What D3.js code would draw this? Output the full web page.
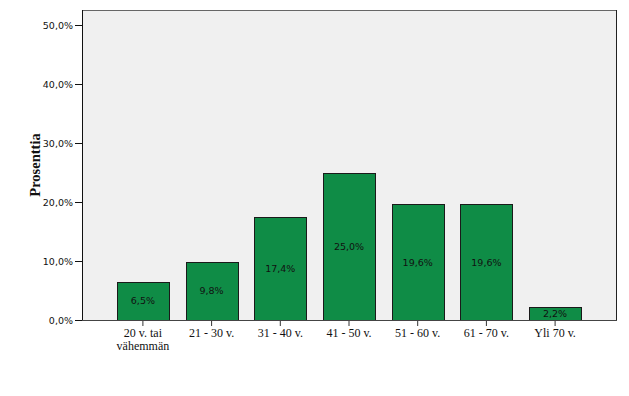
<!DOCTYPE html>
<html>
<head>
<meta charset="utf-8">
<script src="https://cdn.jsdelivr.net/npm/d3@7"></script>
<style>
  body { margin: 0; background: #fff; }
  .tick text { font-family: "DejaVu Sans", sans-serif; font-size: 9.5px; fill: #111; }
  .bar_label { font-family: "DejaVu Sans", sans-serif; font-size: 9.5px; fill: #111; }
</style>
</head>
<body>
<script>
// data
const categories = ["20 v. tai vähemmän", "21 - 30 v.", "31 - 40 v.", "41 - 50 v.", "51 - 60 v.", "61 - 70 v.", "Yli 70 v."];
const categoryLines = [["20 v. tai", "vähemmän"], ["21 - 30 v."], ["31 - 40 v."], ["41 - 50 v."], ["51 - 60 v."], ["61 - 70 v."], ["Yli 70 v."]];
const values = [6.5, 9.8, 17.4, 25.0, 19.6, 19.6, 2.2];
const yTicks = [0, 10, 20, 30, 40, 50];
const yTitle = "Prosenttia";

// dimensions
var width = 629, height = 396;
var plot = {left: 82, right: 616, top: 10, bottom: 320};

var fmt = function(v) { return v.toFixed(1).replace(".", ",") + "%"; };

var svg = d3.select("body").append("svg")
    .attr("width", width)
    .attr("height", height);

var x = d3.scaleBand().domain(categories).range([plot.left, plot.right]).paddingInner(0.243).paddingOuter(0.508);
var y = d3.scaleLinear().domain([0, 50]).range([plot.bottom, 25]);

// plot background + frame
svg.append("rect")
    .attr("x", plot.left).attr("y", plot.top)
    .attr("width", plot.right - plot.left).attr("height", plot.bottom - plot.top)
    .attr("fill", "#f0f0f0");
svg.append("line")
    .attr("x1", plot.left).attr("x2", plot.right).attr("y1", plot.top + 0.5).attr("y2", plot.top + 0.5)
    .attr("stroke", "#666");
svg.append("line")
    .attr("x1", plot.right + 0.5).attr("x2", plot.right + 0.5).attr("y1", plot.top).attr("y2", plot.bottom)
    .attr("stroke", "#222");

// bars
svg.selectAll(".bar")
    .data(values)
    .enter()
    .append("rect")
    .attr("class", "bar")
    .attr("x", function(d, i) { return Math.round(x(categories[i])) + 0.5; })
    .attr("y", function(d) { return Math.round(y(d)) + 0.5; })
    .attr("width", Math.round(x.bandwidth()))
    .attr("height", function(d) { return Math.round(y(0)) - Math.round(y(d)); })
    .attr("fill", "#0f8c46")
    .attr("stroke", "#1a1a1a");

// bar labels
svg.selectAll(".bar_label")
    .data(values)
    .enter()
    .append("text")
    .attr("class", "bar_label")
    .attr("x", function(d, i) { return x(categories[i]) + x.bandwidth() / 2; })
    .attr("y", function(d) { return (y(d) + y(0)) / 2; })
    .attr("dy", "0.35em")
    .attr("text-anchor", "middle")
    .text(fmt);

// y axis
var yAxis = svg.append("g")
    .attr("transform", "translate(" + plot.left + ",0)")
    .call(d3.axisLeft(y).tickValues(yTicks).tickSize(7).tickPadding(2).tickFormat(fmt));
yAxis.select(".domain").remove();
yAxis.selectAll(".tick line").attr("stroke", "#111");
svg.append("line")
    .attr("x1", plot.left + 0.5).attr("x2", plot.left + 0.5).attr("y1", plot.top).attr("y2", plot.bottom + 1)
    .attr("stroke", "#111");

// x axis
var xAxis = svg.append("g")
    .attr("transform", "translate(0," + plot.bottom + ")")
    .call(d3.axisBottom(x).tickSize(6).tickFormat(""));
xAxis.select(".domain").remove();
xAxis.selectAll(".tick line").attr("stroke", "#333");
xAxis.selectAll(".tick").append("text")
    .attr("text-anchor", "middle")
    .style("font-family", "Liberation Serif, serif")
    .style("font-size", "12px")
    .attr("fill", "#111")
    .each(function(d, i) {
        var t = d3.select(this);
        categoryLines[i].forEach(function(line, j) {
            t.append("tspan").attr("x", 0).attr("y", 17 + j * 13).text(line);
        });
    });
svg.append("line")
    .attr("x1", plot.left).attr("x2", plot.right + 1).attr("y1", plot.bottom + 0.5).attr("y2", plot.bottom + 0.5)
    .attr("stroke", "#444");

// y axis title
svg.append("text")
    .attr("transform", "translate(40,165) rotate(-90)")
    .attr("text-anchor", "middle")
    .attr("font-family", "Liberation Serif, serif")
    .attr("font-weight", "bold")
    .attr("font-size", "14.5px")
    .attr("fill", "#111")
    .text(yTitle);
</script>
</body>
</html>
